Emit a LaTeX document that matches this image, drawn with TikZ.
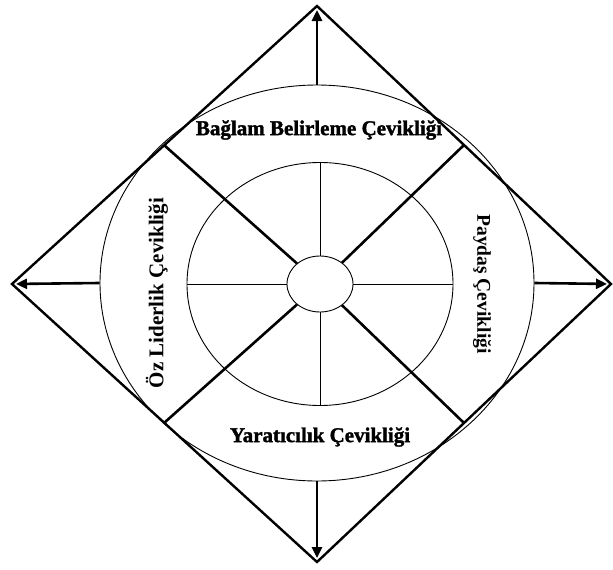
\documentclass[tikz,border=0pt]{standalone}
\usepackage{fontspec}
\setmainfont{Liberation Serif}
\newfontfamily\heavyserif[FakeBold=1.6]{Liberation Serif Bold}
\usetikzlibrary{arrows.meta,shapes.geometric}

\begin{document}
\begin{tikzpicture}[x=1pt, y=-1pt, >=Latex,
  frame/.style={line width=2.4pt, line join=miter},
  ring/.style={draw, ellipse, line width=0.9pt, inner sep=0pt},
  spoke/.style={line width=0.9pt},
  diag/.style={line width=2.6pt},
  outarr/.style={->, line width=2.6pt, >={Triangle[length=11pt,width=10pt]}, shorten >=4pt},
  lbl/.style={font=\bfseries\fontsize{21}{24}\selectfont},
  hlbl/.style={font=\heavyserif\fontsize{21}{24}\selectfont}]
\useasboundingbox (0,0) rectangle (613,570);
% diamond corners and edge midpoints
\coordinate (top) at (317,6);
\coordinate (bot) at (317,562);
\coordinate (left) at (12,284);
\coordinate (right) at (611,284);
\coordinate (mNW) at (164,145);
\coordinate (mNE) at (464,145);
\coordinate (mSW) at (164,423);
\coordinate (mSE) at (464,423);
\draw[frame] (top) -- (right) -- (bot) -- (left) -- cycle;
% rings
\node[ring, minimum width=434pt, minimum height=396pt] (outer) at (317,283) {};
\node[ring, minimum width=266pt, minimum height=243pt] (inner) at (320,284) {};
\node[ring, minimum width=66pt, minimum height=56pt] (hub) at (320,284) {};
% spokes
\draw[spoke] (hub.north) -- (inner.north);
\draw[spoke] (hub.south) -- (inner.south);
\draw[spoke] (hub.west) -- (inner.west);
\draw[spoke] (hub.east) -- (inner.east);
\foreach \m in {mNW,mNE,mSW,mSE}
  \draw[diag] (\m) -- (hub);
% arrows out to the corners
\draw[outarr] (outer.north) -- (top);
\draw[outarr] (outer.south) -- (bot);
\draw[outarr] (outer.west) -- (left);
\draw[outarr] (outer.east) -- (right);
% labels
\node[hlbl] (ctx) at (319,130) {Bağlam Belirleme Çevikliği};
\node[hlbl] (cre) at (320,437) {Yaratıcılık Çevikliği};
\node[lbl, rotate=90] (self) at (157,293) {Öz Liderlik Çevikliği};
\node[lbl, rotate=-90, font=\bfseries\fontsize{19.5}{22}\selectfont] (stake) at (482,284) {Paydaş Çevikliği};
\end{tikzpicture}
\end{document}
